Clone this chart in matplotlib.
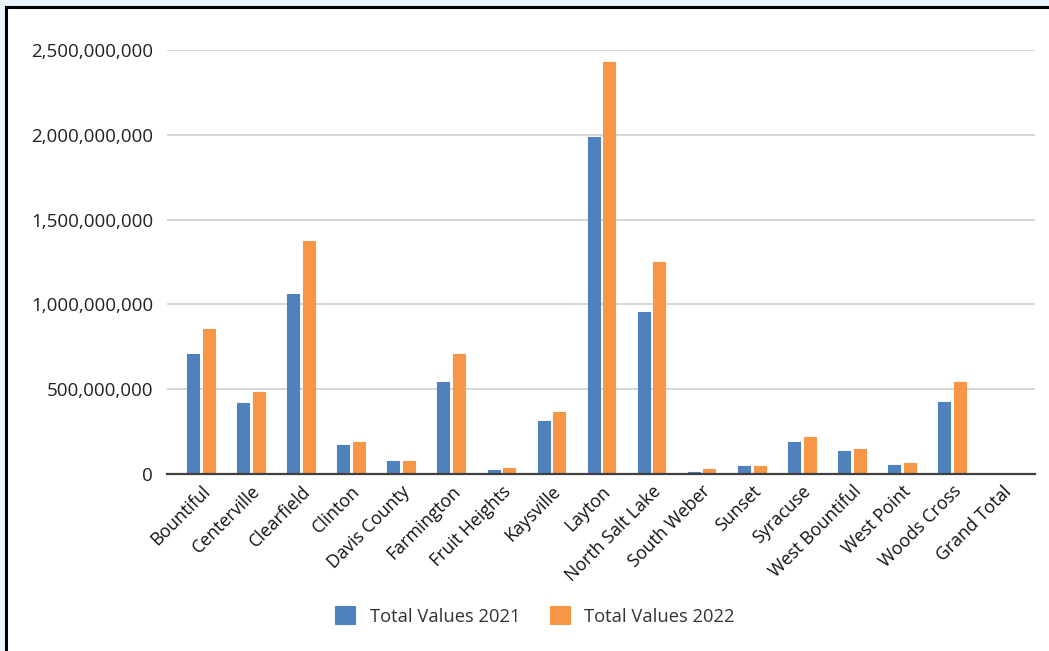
import matplotlib
matplotlib.use("Agg")
import matplotlib.pyplot as plt
import numpy as np
from matplotlib.patches import Rectangle
from matplotlib.ticker import FuncFormatter

cities = ["Bountiful", "Centerville", "Clearfield", "Clinton", "Davis County",
          "Farmington", "Fruit Heights", "Kaysville", "Layton", "North Salt Lake",
          "South Weber", "Sunset", "Syracuse", "West Bountiful", "West Point",
          "Woods Cross", "Grand Total"]
values_2021 = [707e6, 419e6, 1061e6, 171e6, 77e6, 542e6, 24e6, 312e6, 1987e6,
               955e6, 12e6, 47e6, 189e6, 136e6, 53e6, 425e6, 0]
values_2022 = [855e6, 483e6, 1374e6, 189e6, 77e6, 707e6, 35e6, 365e6, 2429e6,
               1250e6, 30e6, 47e6, 218e6, 147e6, 65e6, 542e6, 0]
series_names = ["Total Values 2021", "Total Values 2022"]
yticks = [0, 500e6, 1000e6, 1500e6, 2000e6, 2500e6]

BLUE = "#4F81BD"
ORANGE = "#F79646"
FONT = "Open Sans"

fig = plt.figure(figsize=(10.49, 6.51), dpi=100)
fig.patch.set_facecolor("#E9F4FB")

# white panel with a black frame
panel = Rectangle((6 / 1049, -0.05), 1.1, 1 - 7 / 651 + 0.05, transform=fig.transFigure,
                  facecolor="white", edgecolor="black", linewidth=2.2, zorder=-5)
fig.patches.append(panel)

ax = fig.add_axes([167 / 1049, 1 - 474 / 651, (1035 - 167) / 1049, (474 - 50) / 651])
ax.set_facecolor("none")
ax.set_zorder(2)

x = np.arange(len(cities))
w = 0.24
gap = 0.074
off = w / 2 + gap / 2
bars1 = ax.bar(x - off, values_2021, width=w, color=BLUE, label=series_names[0], zorder=3)
bars2 = ax.bar(x + off, values_2022, width=w, color=ORANGE, label=series_names[1], zorder=3)
# soften bar corners slightly
for b in list(bars1) + list(bars2):
    b.set_edgecolor(b.get_facecolor())
    b.set_linewidth(0.8)
    b.set_joinstyle("round")

ax.set_xlim(-0.68, len(cities) - 0.34)
ax.set_ylim(0, 2.5e9)
ax.set_yticks(yticks)
ax.yaxis.set_major_formatter(FuncFormatter(lambda v, p: f"{int(v):,}"))
ax.grid(axis="y", color="#CFCFCF", linewidth=1.2, zorder=0)
ax.set_axisbelow(True)
for side in ["top", "right", "left"]:
    ax.spines[side].set_visible(False)
ax.spines["bottom"].set_color("#404040")
ax.spines["bottom"].set_linewidth(1.6)
ax.spines["bottom"].set_zorder(4)
ax.tick_params(axis="y", length=0, pad=10, labelsize=13.5, labelcolor="#222222")
ax.tick_params(axis="x", length=0, pad=6, labelsize=12.8, labelcolor="#111111")
ax.set_xticks(x)
ax.set_xticklabels(cities, rotation=45, ha="right", rotation_mode="anchor")
for lab in ax.get_xticklabels() + ax.get_yticklabels():
    lab.set_fontfamily(FONT)

leg = fig.legend(loc="center", bbox_to_anchor=(535 / 1049, 1 - 616 / 651), ncol=2,
                 frameon=False, prop={"family": FONT, "size": 13.2},
                 handlelength=1.1, handleheight=1.1, handletextpad=0.8,
                 columnspacing=1.6)
for t in leg.get_texts():
    t.set_color("#333333")

fig.savefig("out.png", dpi=100, facecolor=fig.get_facecolor())
